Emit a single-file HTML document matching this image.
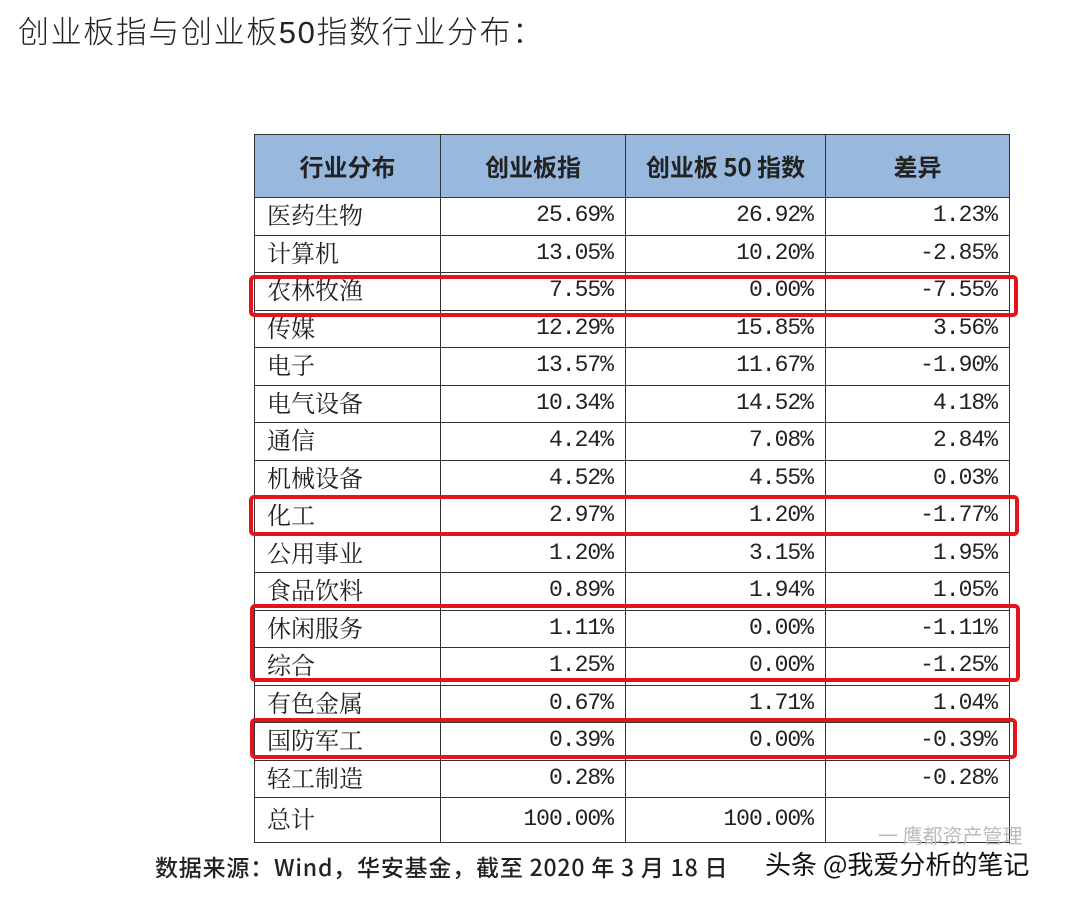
<!DOCTYPE html>
<html><head><meta charset="utf-8"><style>
body{margin:0;width:1066px;height:902px;background:#fff;position:relative;overflow:hidden;font-family:"Liberation Sans","Noto Sans CJK SC",sans-serif}
#title{position:absolute;left:18px;top:7px;font-size:31px;color:#222;font-weight:300;letter-spacing:1.6px}
table{position:absolute;left:254px;top:134px;border-collapse:collapse;table-layout:fixed;width:755px}
td,th{border:1.5px solid #333;padding:0 12px;height:37.5px;box-sizing:border-box;font-size:24px;color:#222;line-height:1}
th{height:63px;background:#98b8de;font-weight:bold;font-size:24px;text-align:center;font-family:"Noto Sans CJK SC",sans-serif}
td{font-family:"Noto Serif CJK SC","Liberation Mono",serif;padding-bottom:4px}
td.n{text-align:right;font-family:"Liberation Mono","Noto Serif CJK SC",monospace;font-size:23px;letter-spacing:-1px;padding-bottom:1px}
tr.tot td{height:45px}
.box{position:absolute;border:4px solid #e0161c;border-radius:5px;box-sizing:border-box}
#src{position:absolute;left:155px;top:849px;font-size:23px;color:#222;font-weight:500;font-family:"Noto Sans CJK SC",sans-serif;letter-spacing:0.8px}
#wm{position:absolute;left:765px;top:845px;font-size:26px;color:#111;font-family:"Noto Sans CJK SC",sans-serif}
#wm2{position:absolute;left:878px;top:820px;font-size:20px;color:#bbb;font-family:"Noto Sans CJK SC",sans-serif}
</style></head><body>
<div id="title">创业板指与创业板50指数行业分布：</div>
<table>
<colgroup><col style="width:186px"><col style="width:185px"><col style="width:200px"><col style="width:184px"></colgroup>
<tr><th>行业分布</th><th>创业板指</th><th>创业板 50 指数</th><th>差异</th></tr>
<tr><td>医药生物</td><td class="n">25.69%</td><td class="n">26.92%</td><td class="n">1.23%</td></tr>
<tr><td>计算机</td><td class="n">13.05%</td><td class="n">10.20%</td><td class="n">-2.85%</td></tr>
<tr><td>农林牧渔</td><td class="n">7.55%</td><td class="n">0.00%</td><td class="n">-7.55%</td></tr>
<tr><td>传媒</td><td class="n">12.29%</td><td class="n">15.85%</td><td class="n">3.56%</td></tr>
<tr><td>电子</td><td class="n">13.57%</td><td class="n">11.67%</td><td class="n">-1.90%</td></tr>
<tr><td>电气设备</td><td class="n">10.34%</td><td class="n">14.52%</td><td class="n">4.18%</td></tr>
<tr><td>通信</td><td class="n">4.24%</td><td class="n">7.08%</td><td class="n">2.84%</td></tr>
<tr><td>机械设备</td><td class="n">4.52%</td><td class="n">4.55%</td><td class="n">0.03%</td></tr>
<tr><td>化工</td><td class="n">2.97%</td><td class="n">1.20%</td><td class="n">-1.77%</td></tr>
<tr><td>公用事业</td><td class="n">1.20%</td><td class="n">3.15%</td><td class="n">1.95%</td></tr>
<tr><td>食品饮料</td><td class="n">0.89%</td><td class="n">1.94%</td><td class="n">1.05%</td></tr>
<tr><td>休闲服务</td><td class="n">1.11%</td><td class="n">0.00%</td><td class="n">-1.11%</td></tr>
<tr><td>综合</td><td class="n">1.25%</td><td class="n">0.00%</td><td class="n">-1.25%</td></tr>
<tr><td>有色金属</td><td class="n">0.67%</td><td class="n">1.71%</td><td class="n">1.04%</td></tr>
<tr><td>国防军工</td><td class="n">0.39%</td><td class="n">0.00%</td><td class="n">-0.39%</td></tr>
<tr><td>轻工制造</td><td class="n">0.28%</td><td class="n"></td><td class="n">-0.28%</td></tr>
<tr class="tot"><td>总计</td><td class="n">100.00%</td><td class="n">100.00%</td><td class="n"></td></tr>
</table>
<div class="box" style="left:249px;top:275px;width:769px;height:42px"></div>
<div class="box" style="left:249px;top:495px;width:770px;height:41px"></div>
<div class="box" style="left:250px;top:604px;width:770px;height:78px"></div>
<div class="box" style="left:250px;top:718px;width:767px;height:41px"></div>
<div id="src">数据来源：Wind，华安基金，截至 2020 年 3 月 18 日</div>
<div id="wm2">一 鹰都资产管理</div>
<div id="wm">头条 @我爱分析的笔记</div>
</body></html>
